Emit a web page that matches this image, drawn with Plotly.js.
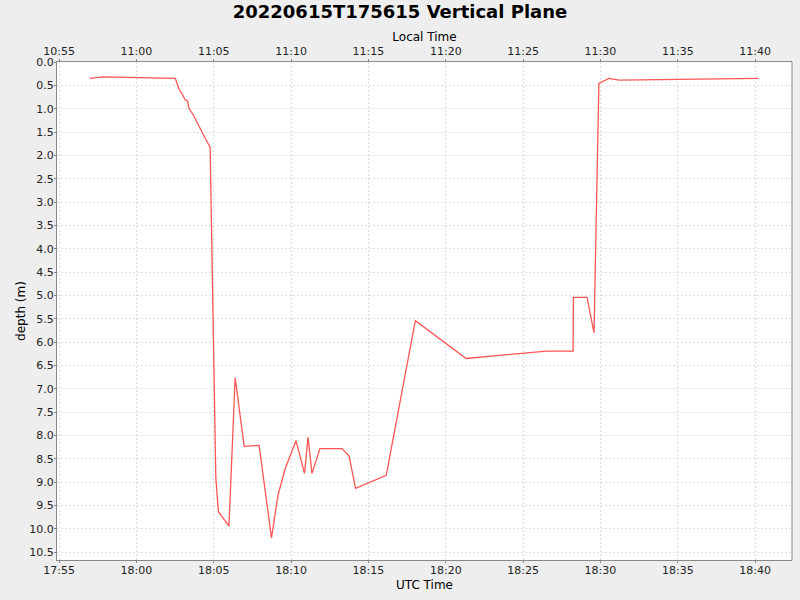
<!DOCTYPE html>
<html><head><meta charset="utf-8">
<script src="https://cdn.plot.ly/plotly-3.0.1.min.js"></script>
<style>html,body{margin:0;padding:0;background:#eeeeee}#chart{width:800px;height:600px}</style>
</head><body><div id="chart"></div>
<script>
const utcTimes = [
 "2022-06-15 17:56:59","2022-06-15 17:57:50","2022-06-15 18:02:31","2022-06-15 18:02:36",
 "2022-06-15 18:02:45","2022-06-15 18:02:56","2022-06-15 18:03:09","2022-06-15 18:03:18",
 "2022-06-15 18:03:24","2022-06-15 18:03:40","2022-06-15 18:04:06","2022-06-15 18:04:25",
 "2022-06-15 18:04:46","2022-06-15 18:05:08","2022-06-15 18:05:18","2022-06-15 18:05:59",
 "2022-06-15 18:06:23","2022-06-15 18:06:58","2022-06-15 18:07:56","2022-06-15 18:08:44",
 "2022-06-15 18:09:09","2022-06-15 18:09:37","2022-06-15 18:10:19","2022-06-15 18:10:52",
 "2022-06-15 18:11:06","2022-06-15 18:11:21","2022-06-15 18:11:52","2022-06-15 18:13:18",
 "2022-06-15 18:13:45","2022-06-15 18:14:10","2022-06-15 18:16:09","2022-06-15 18:18:02",
 "2022-06-15 18:21:19","2022-06-15 18:26:30","2022-06-15 18:28:14","2022-06-15 18:28:15",
 "2022-06-15 18:29:08","2022-06-15 18:29:35","2022-06-15 18:29:54","2022-06-15 18:30:33",
 "2022-06-15 18:31:12","2022-06-15 18:40:13"
];
const depths = [
 0.35,0.32,0.35,0.42,
 0.58,0.67,0.81,0.83,
 0.99,1.13,1.42,1.61,
 1.83,8.9,9.63,9.94,
 6.76,8.23,8.21,10.19,
 9.28,8.71,8.11,8.81,
 8.04,8.81,8.28,8.28,
 8.44,9.13,8.85,5.54,
 6.35,6.19,6.19,5.04,
 5.04,5.80,0.46,0.35,
 0.39,0.35
];
const utcOffsetHours = -7;
const utcRange = ["2022-06-15 17:54:52","2022-06-15 18:42:23"];
const localRange = ["2022-06-15 10:54:52","2022-06-15 11:42:23"];
const depthRange = [10.665, 0];

function shift(s,h){const d=new Date(s.replace(' ','T')+'Z');d.setUTCHours(d.getUTCHours()+h);return d.toISOString().replace('T',' ').slice(0,19);}
const localTimes = utcTimes.map(t=>shift(t,utcOffsetHours));

const font = "DejaVu Sans, Verdana, sans-serif";
const axisCommon = {
  showline:true, linecolor:'#888888', linewidth:1, mirror:false,
  ticks:'outside', ticklen:2, tickcolor:'#888888', ticklabelstandoff:-2,
  showgrid:true, gridcolor:'#dedede', griddash:'2px,2px', gridwidth:1,
  zeroline:false, tickfont:{family:font,size:11,color:'#222'}
};
const data = [
  {x:utcTimes, y:depths, type:'scatter', mode:'lines', line:{color:'#ff5555',width:1.3}, xaxis:'x', yaxis:'y', hoverinfo:'x+y'},
  {x:localTimes, y:depths, type:'scatter', mode:'lines', line:{color:'rgba(0,0,0,0)',width:0}, xaxis:'x2', yaxis:'y', hoverinfo:'skip', opacity:0}
];
const layout = {
  width:800, height:600,
  paper_bgcolor:'#eeeeee', plot_bgcolor:'#ffffff',
  margin:{l:57,r:8,t:62,b:40},
  showlegend:false,
  title:{text:'<b>20220615T175615 Vertical Plane</b>', font:{family:font,size:18,color:'#000'}, x:0.5, xanchor:'center', y:0.98, yanchor:'middle'},
  xaxis:Object.assign({}, axisCommon, {
    type:'date', range:utcRange, tick0:'2022-06-15 17:55:00', dtick:300000, tickformat:'%H:%M',
    title:{text:'UTC Time', font:{family:font,size:12,color:'#000'}, standoff:4}
  }),
  xaxis2:Object.assign({}, axisCommon, {
    type:'date', range:localRange, tick0:'2022-06-15 10:55:00', dtick:300000, tickformat:'%H:%M',
    overlaying:'x', side:'top', showgrid:false, ticklabelstandoff:0,
    title:{text:'Local Time', font:{family:font,size:12,color:'#000'}, standoff:0}
  }),
  yaxis:Object.assign({}, axisCommon, {
    range:depthRange, dtick:0.5, tick0:0, tickformat:'.1f',
    title:{text:'depth (m)', font:{family:font,size:12,color:'#000'}, standoff:1}
  }),
  shapes:[{type:'line', xref:'paper', yref:'paper', x0:1, x1:1, y0:0, y1:1, line:{color:'#888888', width:1}}]
};
Plotly.newPlot('chart', data, layout, {displayModeBar:false, staticPlot:true});
</script></body></html>
